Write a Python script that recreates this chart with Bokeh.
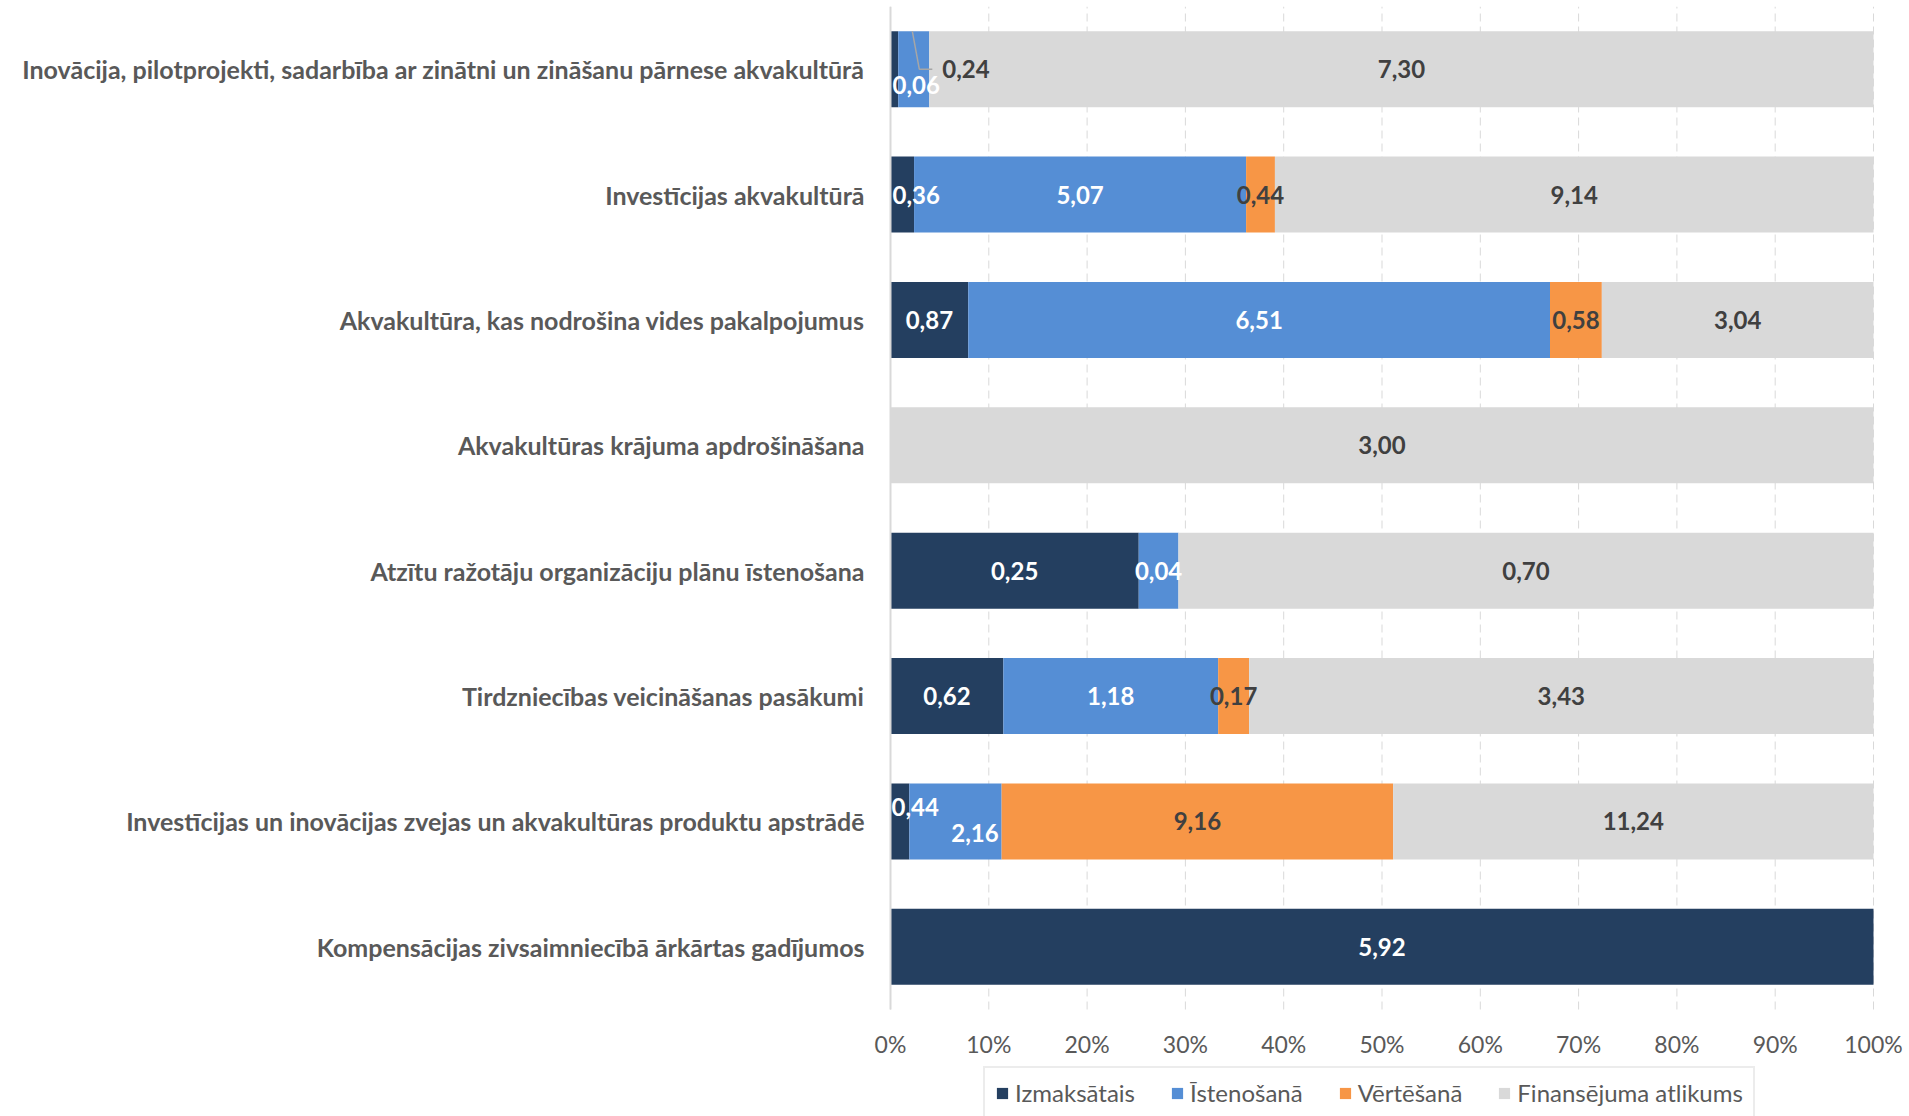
from bokeh.plotting import figure
from bokeh.models import Range1d, FixedTicker, NumeralTickFormatter, Legend, LegendItem, ColumnDataSource
from bokeh.embed import file_html
from bokeh.resources import INLINE
from bokeh.core.properties import value

# ---------------- data ----------------
categories = [
    "Inovācija, pilotprojekti, sadarbība ar zinātni un zināšanu pārnese akvakultūrā",
    "Investīcijas akvakultūrā",
    "Akvakultūra, kas nodrošina vides pakalpojumus",
    "Akvakultūras krājuma apdrošināšana",
    "Atzītu ražotāju organizāciju plānu īstenošana",
    "Tirdzniecības veicināšanas pasākumi",
    "Investīcijas un inovācijas zvejas un akvakultūras produktu apstrādē",
    "Kompensācijas zivsaimniecībā ārkārtas gadījumos",
]
series_names = ["Izmaksātais", "Īstenošanā", "Vērtēšanā", "Finansējuma atlikums"]
izmaksatais = [0.06, 0.36, 0.87, 0.00, 0.25, 0.62, 0.44, 5.92]
istenosana = [0.24, 5.07, 6.51, 0.00, 0.04, 1.18, 2.16, 0.00]
vertesana = [0.00, 0.44, 0.58, 0.00, 0.00, 0.17, 9.16, 0.00]
atlikums = [7.30, 9.14, 3.04, 3.00, 0.70, 3.43, 11.24, 0.00]
x_ticks = [0.0, 0.1, 0.2, 0.3, 0.4, 0.5, 0.6, 0.7, 0.8, 0.9, 1.0]

# ---------------- style ----------------
colors = ["#243F60", "#558ED5", "#F79646", "#D9D9D9"]
label_colors = ["#FFFFFF", "#FFFFFF", "#404040", "#404040"]
TXT = "#595959"
FONT = "Lato"
BAR_H = 0.607
W, H = 1909, 1116
TOP = 6
BAR_LEFT, BAR_RIGHT = 890, 1873   # pixel span of 0%..100%
PAD_L = 20                         # frame starts a little left of 0% so the "0%" label is not clipped
ROWS_PX = 1003                     # height of the category area in pixels
PX = 1.0 / (BAR_RIGHT - BAR_LEFT)  # one screen pixel in x data units

series = [izmaksatais, istenosana, vertesana, atlikums]
n = len(categories)
ypos = [n - 1 - i for i in range(n)]
totals = [sum(s[i] for s in series) for i in range(n)]

band = ROWS_PX / n
frame_h = H - TOP
y_low = (n - 0.5) - frame_h / band

p = figure(width=W, height=H, output_backend="svg", toolbar_location=None,
           x_range=Range1d(-PAD_L * PX, 1 + (W - BAR_RIGHT) * PX), y_range=Range1d(y_low, n - 0.5),
           min_border_left=BAR_LEFT - PAD_L, min_border_right=0, min_border_top=TOP, min_border_bottom=0)
p.outline_line_color = None
p.background_fill_color = "white"
p.border_fill_color = "white"

# grid (dashed vertical lines over the category area only)
p.ygrid.grid_line_color = None
p.xgrid.grid_line_color = None
p.segment(x0=x_ticks, x1=x_ticks, y0=[-0.5] * len(x_ticks), y1=[n - 0.5] * len(x_ticks),
          line_color="#D9D9D9", line_dash="8 5", line_width=1)

# bars
renderers = []
lefts = [0.0] * n
segs = []
for k, s in enumerate(series):
    left = []
    right = []
    for i in range(n):
        frac = s[i] / totals[i]
        left.append(lefts[i])
        right.append(lefts[i] + frac)
    segs.append((left, right))
    lefts = right
    src = ColumnDataSource(dict(y=ypos, left=left, right=right))
    r = p.hbar(y="y", left="left", right="right", height=BAR_H, source=src,
               fill_color=colors[k], line_color=None)
    renderers.append(r)

# left axis line (category axis)
p.line(x=[0, 0], y=[-0.5, n - 0.5], line_color="#D9D9D9", line_width=2)

# data labels
adjust = {
    (0, 0): dict(align="left", x=0.0, dx=2, dy=16, color="#FFFFFF"),
    (0, 1): dict(align="left", x=None, dx=13, dy=0, color="#404040"),
    (6, 0): dict(align="left", x=0.0, dx=1, dy=-14, color="#FFFFFF"),
    (6, 1): dict(align="right", x=None, dx=-3, dy=12, color="#FFFFFF"),
}
lx, ly, lt, lc, la, ldx, ldy = [], [], [], [], [], [], []
for k, s in enumerate(series):
    left, right = segs[k]
    for i in range(n):
        if s[i] <= 0:
            continue
        txt = f"{s[i]:.2f}".replace(".", ",")
        cx = (left[i] + right[i]) / 2
        align, x, dx, dy, col = "center", cx, 0, 0, label_colors[k]
        if cx < 0.025:
            align, x, dx = "left", 0.0, 2
        if (i, k) in adjust:
            a = adjust[(i, k)]
            align, dx, dy, col = a["align"], a["dx"], a["dy"], a["color"]
            x = a["x"] if a["x"] is not None else right[i]
        lx.append(x); ly.append(ypos[i]); lt.append(txt); lc.append(col)
        la.append(align); ldx.append(dx); ldy.append(dy)

lsrc = ColumnDataSource(dict(x=lx, y=ly, text=lt, color=lc, align=la, dx=ldx, dy=ldy))
p.text(x="x", y="y", text="text", source=lsrc, text_color="color", text_align="align",
       x_offset="dx", y_offset="dy", text_baseline="middle",
       text_font=value(FONT), text_font_style="bold", text_font_size="24px")

# leader line for the small label in the first row
r0_right = segs[1][1][0]
p.line(x=[r0_right - 17 * PX, r0_right - 10 * PX, r0_right + 3 * PX],
       y=[ypos[0] + BAR_H / 2, ypos[0], ypos[0]], line_color="#A6A6A6", line_width=1.5)

# axes
p.xaxis.fixed_location = -0.5
p.xaxis.ticker = FixedTicker(ticks=x_ticks)
p.xaxis.formatter = NumeralTickFormatter(format="0%")
p.xaxis.axis_line_color = None
p.xaxis.major_tick_line_color = None
p.xaxis.minor_tick_line_color = None
p.xaxis.major_tick_out = 0
p.xaxis.major_label_standoff = 20
p.xaxis.major_label_text_font = FONT
p.xaxis.major_label_text_font_size = "23px"
p.xaxis.major_label_text_color = TXT

p.yaxis.ticker = FixedTicker(ticks=ypos)
p.yaxis.major_label_overrides = {ypos[i]: categories[i] for i in range(n)}
p.yaxis.axis_line_color = None
p.yaxis.major_tick_line_color = None
p.yaxis.minor_tick_line_color = None
p.yaxis.major_tick_out = 0
p.yaxis.major_label_standoff = 6
p.yaxis.major_label_text_font = FONT
p.yaxis.major_label_text_font_style = "bold"
p.yaxis.major_label_text_font_size = "25px"
p.yaxis.major_label_text_color = TXT

# legend (inside the frame, under the axis labels)
legend = Legend(items=[LegendItem(label=series_names[k], renderers=[renderers[k]]) for k in range(4)],
                orientation="horizontal", location=(93 + PAD_L, -3),
                label_text_font=FONT, label_text_font_size="24px", label_text_color=TXT,
                glyph_width=14, glyph_height=14, label_standoff=6, spacing=35,
                padding=10, margin=0, border_line_color="#D9D9D9", border_line_width=2,
                background_fill_color="white", background_fill_alpha=1.0)
p.add_layout(legend, "center")

open("out.html", "w").write(file_html(p, INLINE))
